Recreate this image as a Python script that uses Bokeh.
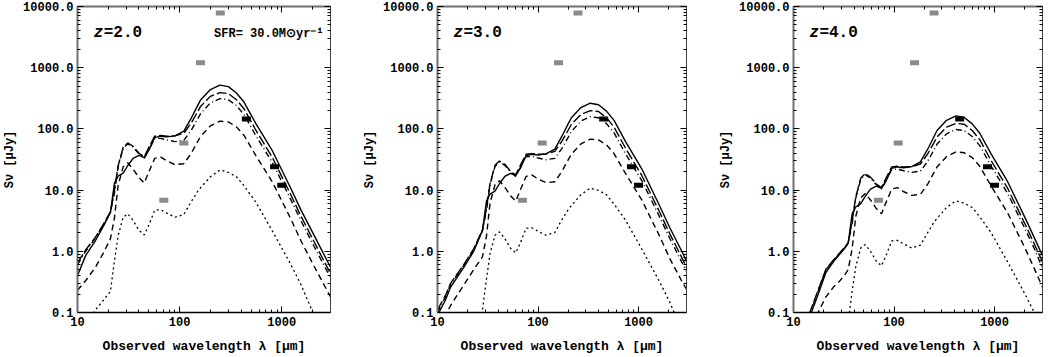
from bokeh.plotting import figure
from bokeh.models import Range1d, LogAxis, FixedTicker, PrintfTickFormatter, Label
from bokeh.layouts import row
from bokeh.embed import file_html
from bokeh.resources import INLINE

FONT = "Liberation Mono"

# ---------------- tick positions / labels ----------------
x_major = [10, 100, 1000]
x_minor = [20, 30, 40, 50, 60, 70, 80, 90, 200, 300, 400, 500, 600, 700, 800, 900, 2000, 3000]
y_major = [0.1, 1, 10, 100, 1000, 10000]
y_minor = [d * k for d in [0.1, 1, 10, 100, 1000] for k in range(2, 10)]

# ---------------- observational points (same in every panel) ----------------
gray_lam = [70, 110, 160, 250]
gray_flux = [6.8, 59, 1200, 7800]
black_lam = [450, 850, 1000]
black_flux = [145, 24, 12]

# ---------------- z = 2.0 ----------------
z2_lam = [10, 12, 15, 18, 21, 23, 25, 28, 31, 35, 40, 45, 50, 57, 65, 75, 90, 110, 130, 150,
          161, 200, 248, 300, 360, 428, 556, 810, 1225, 1535, 2073, 3000]
z2_total = [0.4, 0.85, 1.5, 2.6, 4.3, 13, 17, 19, 25, 33, 37, 34, 45, 72, 76, 74, 77, 92, 150, 240,
            300, 440, 519, 490, 385, 272, 123, 43.6, 10.7, 4.8, 1.82, 0.55]
z2_ldash = [0.65, 1.05, 1.7, 2.8, 4.4, 10, 25, 50, 59, 52, 40, 35, 50, 76, 78, 76, 77, 85, 125, 190,
            235, 340, 392, 378, 300, 212, 96, 34, 8.4, 3.8, 1.43, 0.43]
z2_dashdot = [0.6, 1.0, 1.65, 2.75, 4.3, 9, 24, 48, 57, 50, 39, 33, 46, 70, 70, 66, 62, 65, 95, 145,
              180, 265, 312, 300, 240, 170, 78, 28, 7.0, 3.2, 1.2, 0.37]
z2_dash = [0.23, 0.33, 0.55, 0.95, 1.6, 3.5, 12, 24, 28, 22, 16, 13, 20, 33, 35, 30, 26, 27, 40, 62,
           76, 112, 134, 130, 108, 78, 37, 13.5, 3.4, 1.5, 0.57, 0.18]
z2_dot = [0.03, 0.06, 0.11, 0.16, 0.22, 0.7, 1.8, 3.6, 4.1, 3.2, 2.2, 1.85, 2.7, 4.7, 4.8, 4.2, 3.6, 4.0, 6.5, 9.5,
          11, 16.5, 21.3, 19.5, 16.5, 11.7, 6.4, 2.14, 0.61, 0.29, 0.09, 0.005]

# ---------------- z = 3.0 ----------------
z3_lam = [10, 12, 13.5, 18.2, 22.9, 28, 30.7, 33.3, 37.3, 41.3, 46.7, 53.3, 60, 66.7, 76, 86.7, 100, 120,
          147, 173, 200, 215, 267, 331, 400, 480, 571, 741, 1080, 1633, 2047, 2764, 3000]
z3_total = [0.09, 0.16, 0.26, 0.54, 1.0, 2.18, 6.6, 8.6, 9.6, 12.7, 16.7, 18.8, 17.2, 22.8, 36.5, 38.5, 37.5, 39,
            46.6, 76, 122, 152, 223, 263, 248, 195, 138, 62.4, 22.1, 5.4, 2.43, 0.92, 0.68]
z3_ldash = [0.11, 0.19, 0.3, 0.6, 1.1, 2.23, 5.1, 12.7, 25.4, 29.9, 26.4, 20.3, 17.7, 25.4, 38.5, 39.5, 38.5, 39,
            43, 63, 96, 119, 172, 199, 192, 152, 107, 48.7, 17.2, 4.26, 1.93, 0.725, 0.55]
z3_dashdot = [0.1, 0.18, 0.29, 0.58, 1.05, 2.18, 4.6, 12.2, 24.3, 28.9, 25.4, 19.8, 16.7, 23.3, 35.5, 35.5, 33.5, 31.4,
              33, 48, 73.5, 91, 134, 158, 152, 122, 86, 39.5, 14.2, 3.55, 1.62, 0.61, 0.47]
z3_dash = [0.04, 0.09, 0.13, 0.28, 0.5, 0.81, 1.77, 6.1, 12.2, 14.2, 11.2, 8.1, 6.6, 10.1, 16.7, 17.7, 15.2, 13.2,
           13.7, 20.3, 31.4, 38.5, 56.8, 68, 66, 54.8, 39.5, 18.8, 6.84, 1.72, 0.76, 0.3, 0.24]
z3_dot = [0.005, 0.008, 0.01, 0.02, 0.04, 0.11, 0.35, 0.91, 1.83, 2.08, 1.62, 1.12, 0.94, 1.37, 2.38, 2.43, 2.13, 1.83,
          2.03, 3.3, 4.8, 5.6, 8.4, 10.8, 9.9, 8.4, 5.9, 3.24, 1.08, 0.31, 0.147, 0.046, 0.03]

# ---------------- z = 4.0 ----------------
z4_lam = [10, 12, 14.5, 17, 21, 25, 28.5, 32, 35, 38.3, 41.7, 46.7, 51.7, 58.3, 66.7, 75, 83.3, 95, 108, 125,
          150, 183, 217, 250, 268, 333, 413, 500, 600, 713, 927, 1350, 2042, 2558, 3000]
z4_total = [0.02, 0.04, 0.085, 0.17, 0.45, 0.68, 0.88, 1.1, 1.35, 4.1, 5.3, 6.0, 7.9, 10.4, 11.6, 10.7, 14.1, 22.6,
            23.9, 23.2, 24.2, 28.9, 47, 75, 94, 138, 163, 154, 121, 85, 38.6, 13.7, 3.36, 1.51, 0.85]
z4_ldash = [0.025, 0.05, 0.1, 0.2, 0.51, 0.72, 0.92, 1.15, 1.38, 3.14, 7.85, 15.7, 18.5, 16.3, 12.6, 11, 15.7, 23.9,
            24.5, 23.9, 24.2, 26.7, 39.3, 59.7, 73.8, 107, 123, 119, 94, 66.6, 30.1, 10.7, 2.64, 1.19, 0.67]
z4_dashdot = [0.022, 0.045, 0.095, 0.19, 0.5, 0.7, 0.9, 1.12, 1.35, 2.83, 7.5, 15.1, 17.9, 15.7, 12.2, 10.4, 14.4, 22,
              22, 20.7, 19.5, 20.4, 29.8, 45.5, 56.5, 83, 98, 94, 75, 53.4, 24.5, 8.8, 2.2, 1.0, 0.52]
z4_dash = [0.005, 0.01, 0.03, 0.09, 0.18, 0.26, 0.32, 0.4, 0.5, 1.1, 3.77, 7.5, 8.8, 6.9, 5.0, 4.1, 6.3, 10.4,
           11, 9.4, 8.2, 8.5, 12.6, 19.5, 23.9, 35.2, 42, 40.8, 33.9, 24.5, 11.6, 4.24, 1.07, 0.47, 0.26]
z4_dot = [0.001, 0.002, 0.004, 0.008, 0.015, 0.025, 0.035, 0.05, 0.069, 0.22, 0.57, 1.13, 1.29, 1.0, 0.69, 0.58, 0.85,
          1.48, 1.51, 1.32, 1.13, 1.26, 2.04, 3.0, 3.45, 5.2, 6.7, 6.1, 5.2, 3.67, 2.0, 0.67, 0.19, 0.091, 0.045]

panel_values = ["=2.0", "=3.0", "=4.0"]
sfr_text = "SFR= 30.0M\u2299yr\u207b\u00b9"


def style_axis(ax, color, width, show_labels, is_x):
    ax.ticker = FixedTicker(ticks=x_major if is_x else y_major,
                            minor_ticks=x_minor if is_x else y_minor)
    ax.major_tick_in = 6
    ax.major_tick_out = 0
    ax.minor_tick_in = 3
    ax.minor_tick_out = 0
    ax.major_tick_line_color = "black"
    ax.minor_tick_line_color = "black"
    ax.axis_line_color = color
    ax.axis_line_width = width
    if show_labels:
        ax.formatter = PrintfTickFormatter(format="%d" if is_x else "%.1f")
        ax.major_label_text_font = FONT
        ax.major_label_text_font_style = "bold"
        ax.major_label_text_font_size = "12px"
        ax.major_label_text_color = "black"
        ax.major_label_standoff = 4
    else:
        ax.major_label_text_font_size = "1px"
        ax.major_label_text_color = None
        ax.major_label_standoff = 0
        ax.major_label_orientation = "parallel"


def make_panel(lam, total, ldash, dashdot, dash, dot, zval, width, border_left, border_right, show_sfr):
    p = figure(width=width, height=356, x_axis_type="log", y_axis_type="log",
               x_range=Range1d(10, 3000), y_range=Range1d(0.1, 10000),
               output_backend="svg", toolbar_location=None,
               min_border_left=border_left, min_border_right=border_right,
               min_border_top=6, min_border_bottom=39)
    p.outline_line_color = None
    p.grid.visible = False
    p.background_fill_color = "white"
    p.border_fill_color = "white"

    xa = p.xaxis[0]
    ya = p.yaxis[0]
    style_axis(xa, "black", 1.5, True, True)
    style_axis(ya, "#707070", 2, True, False)
    xa.axis_label = "Observed wavelength \u03bb [\u03bcm]"
    xa.axis_label_text_font = FONT
    xa.axis_label_text_font_style = "bold"
    xa.axis_label_text_font_size = "13px"
    xa.axis_label_text_color = "black"
    xa.axis_label_standoff = 10
    ya.axis_label = "S\u03bd [\u03bcJy]"
    ya.axis_label_text_font = FONT
    ya.axis_label_text_font_style = "bold"
    ya.axis_label_text_font_size = "12px"
    ya.axis_label_text_color = "black"
    ya.axis_label_standoff = 3

    top = LogAxis()
    style_axis(top, "#707070", 2, False, True)
    p.add_layout(top, "above")
    right = LogAxis()
    style_axis(right, "#404040", 1, False, False)
    p.add_layout(right, "right")

    lw = 1.4
    p.line(lam, dot, line_color="black", line_width=1.3, line_dash="2 3")
    p.line(lam, dash, line_color="black", line_width=lw, line_dash="6 4")
    p.line(lam, dashdot, line_color="black", line_width=lw, line_dash="6 3 1 3")
    p.line(lam, ldash, line_color="black", line_width=lw, line_dash="10 3")
    p.line(lam, total, line_color="black", line_width=lw)

    p.rect(x=gray_lam, y=gray_flux, width=9, height=5, width_units="screen",
           height_units="screen", fill_color="#8a8a8a", line_color=None)
    p.rect(x=black_lam, y=black_flux, width=9, height=5, width_units="screen",
           height_units="screen", fill_color="black", line_color=None)

    p.add_layout(Label(x=14.4, y=3700, text="z", text_font=FONT, text_font_style="bold italic",
                       text_font_size="16px", text_baseline="middle", text_align="left",
                       text_color="black"))
    p.add_layout(Label(x=14.4, y=3700, x_offset=10, text=zval, text_font=FONT,
                       text_font_style="bold", text_font_size="16px", text_baseline="middle",
                       text_align="left", text_color="black"))
    if show_sfr:
        p.add_layout(Label(x=2570, y=3520, text=sfr_text, text_font=FONT, text_font_style="bold",
                           text_font_size="12px", text_baseline="middle", text_align="right",
                           text_color="black"))
    return p


p1 = make_panel(z2_lam, z2_total, z2_ldash, z2_dashdot, z2_dash, z2_dot, panel_values[0], 360, 77, 30, True)
p2 = make_panel(z3_lam, z3_total, z3_ldash, z3_dashdot, z3_dash, z3_dot, panel_values[1], 356, 73, 30, False)
p3 = make_panel(z4_lam, z4_total, z4_ldash, z4_dashdot, z4_dash, z4_dot, panel_values[2], 327, 73, 1, False)

layout = row(p1, p2, p3)
open("out.html", "w").write(file_html(layout, INLINE))
